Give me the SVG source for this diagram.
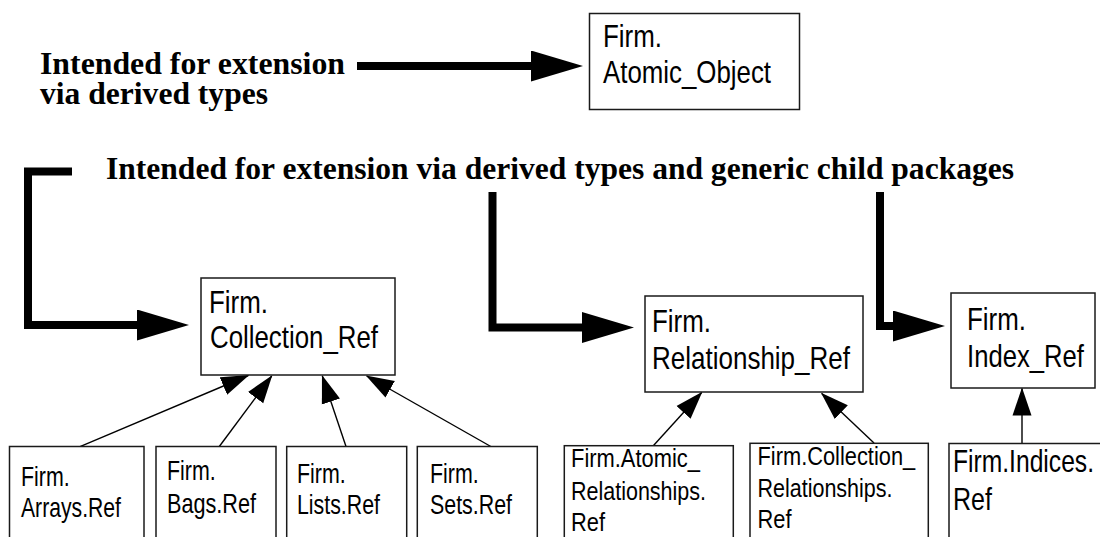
<svg xmlns="http://www.w3.org/2000/svg" width="1100" height="537" viewBox="0 0 1100 537">
  <style>
    .box { fill: #ffffff; stroke: #1a1a1a; stroke-width: 1.5; }
    .lbl { font-family: "Liberation Sans", Arial, Helvetica, sans-serif; fill: #000000; }
    .big { font-size: 32px; }
    .sm { font-size: 27.5px; }
    .xs { font-size: 26.5px; }
    .note { font-family: "Liberation Serif", "Times New Roman", serif; font-weight: bold; font-size: 31px; fill: #000000; }
    .thin { fill: none; stroke: #000000; stroke-width: 1.4; marker-end: url(#tri); }
    .heavy { fill: none; stroke: #000000; stroke-width: 8; stroke-linejoin: miter; marker-end: url(#bigtri); }
  </style>
  <defs>
    <marker id="tri" markerUnits="userSpaceOnUse" viewBox="0 0 28 20" markerWidth="28" markerHeight="20" refX="27" refY="10" orient="auto">
      <path d="M0,0.5 L28,10 L0,19.5 Z" fill="#000000"/>
    </marker>
    <marker id="bigtri" markerUnits="userSpaceOnUse" viewBox="0 0 52 31" markerWidth="52" markerHeight="31" refX="2" refY="15.5" orient="auto">
      <path d="M0,0 L52,15.5 L0,31 Z" fill="#000000"/>
    </marker>
  </defs>

  <rect width="1100" height="537" fill="#ffffff"/>

  <!-- annotations -->
  <g id="notes">
    <text class="note" x="40" y="73.5" textLength="305" lengthAdjust="spacingAndGlyphs">Intended for extension</text>
    <text class="note" x="40" y="103.5" textLength="228" lengthAdjust="spacingAndGlyphs">via derived types</text>
    <text class="note" x="106" y="178.5" textLength="908" lengthAdjust="spacingAndGlyphs">Intended for extension via derived types and generic child packages</text>
  </g>

  <!-- connectors -->
  <g id="connectors">
    <path class="heavy" d="M357,66 H533"/>
    <path class="heavy" d="M72,171.5 H28 V325 H139"/>
    <path class="heavy" d="M492.5,192 V327.5 H584"/>
    <path class="heavy" d="M880,192 V326 H895"/>

    <path class="thin" d="M80,446.7 L248.3,375.5"/>
    <path class="thin" d="M219.3,446.5 L271.7,376"/>
    <path class="thin" d="M346,446.5 L322.3,376"/>
    <path class="thin" d="M491.7,447 L366.7,376"/>
    <path class="thin" d="M653.3,445.7 L701.7,392.5"/>
    <path class="thin" d="M874,443 L821.7,393.5"/>
    <path class="thin" d="M1022,443.5 L1022,388.5"/>
  </g>

  <g id="atomic_object">
    <rect class="box" x="589.5" y="13.5" width="210" height="96"/>
    <text class="lbl big" x="603" y="47" textLength="59" lengthAdjust="spacingAndGlyphs">Firm.</text>
    <text class="lbl big" x="603" y="83" textLength="168" lengthAdjust="spacingAndGlyphs">Atomic_Object</text>
  </g>

  <g id="collection_ref">
    <rect class="box" x="201" y="278" width="194" height="97"/>
    <text class="lbl big" x="209" y="313" textLength="59" lengthAdjust="spacingAndGlyphs">Firm.</text>
    <text class="lbl big" x="210" y="348" textLength="168" lengthAdjust="spacingAndGlyphs">Collection_Ref</text>
  </g>

  <g id="relationship_ref">
    <rect class="box" x="645" y="296" width="218" height="96"/>
    <text class="lbl big" x="652" y="332" textLength="59" lengthAdjust="spacingAndGlyphs">Firm.</text>
    <text class="lbl big" x="652" y="369" textLength="198" lengthAdjust="spacingAndGlyphs">Relationship_Ref</text>
  </g>

  <g id="index_ref">
    <rect class="box" x="951" y="293" width="144" height="95"/>
    <text class="lbl big" x="967" y="330" textLength="59" lengthAdjust="spacingAndGlyphs">Firm.</text>
    <text class="lbl big" x="967" y="366.5" textLength="117" lengthAdjust="spacingAndGlyphs">Index_Ref</text>
  </g>

  <g id="arrays_ref">
    <rect class="box" x="9.5" y="446.5" width="134.5" height="100"/>
    <text class="lbl sm" x="21" y="485.5" textLength="48.7" lengthAdjust="spacingAndGlyphs">Firm.</text>
    <text class="lbl sm" x="21" y="516.5" textLength="100" lengthAdjust="spacingAndGlyphs">Arrays.Ref</text>
  </g>

  <g id="bags_ref">
    <rect class="box" x="156" y="446.5" width="120" height="100"/>
    <text class="lbl sm" x="167" y="480" textLength="48.7" lengthAdjust="spacingAndGlyphs">Firm.</text>
    <text class="lbl sm" x="167" y="512.5" textLength="89" lengthAdjust="spacingAndGlyphs">Bags.Ref</text>
  </g>

  <g id="lists_ref">
    <rect class="box" x="286.7" y="446.5" width="120" height="100"/>
    <text class="lbl sm" x="297" y="482.5" textLength="48.7" lengthAdjust="spacingAndGlyphs">Firm.</text>
    <text class="lbl sm" x="297" y="514" textLength="83" lengthAdjust="spacingAndGlyphs">Lists.Ref</text>
  </g>

  <g id="sets_ref">
    <rect class="box" x="417.3" y="446.5" width="120" height="100"/>
    <text class="lbl sm" x="430" y="482.5" textLength="48.7" lengthAdjust="spacingAndGlyphs">Firm.</text>
    <text class="lbl sm" x="430" y="513.5" textLength="82" lengthAdjust="spacingAndGlyphs">Sets.Ref</text>
  </g>

  <g id="atomic_relationships_ref">
    <rect class="box" x="564.3" y="445.7" width="169" height="100"/>
    <text class="lbl xs" x="571" y="466.5" textLength="129" lengthAdjust="spacingAndGlyphs">Firm.Atomic_</text>
    <text class="lbl xs" x="571" y="500" textLength="135" lengthAdjust="spacingAndGlyphs">Relationships.</text>
    <text class="lbl xs" x="571" y="531" textLength="34" lengthAdjust="spacingAndGlyphs">Ref</text>
  </g>

  <g id="collection_relationships_ref">
    <rect class="box" x="750" y="443.3" width="178.3" height="100"/>
    <text class="lbl xs" x="757.5" y="465" textLength="157.7" lengthAdjust="spacingAndGlyphs">Firm.Collection_</text>
    <text class="lbl xs" x="757.5" y="496.5" textLength="135" lengthAdjust="spacingAndGlyphs">Relationships.</text>
    <text class="lbl xs" x="757.5" y="527.5" textLength="34" lengthAdjust="spacingAndGlyphs">Ref</text>
  </g>

  <g id="indices_ref">
    <rect class="box" x="949" y="443.5" width="160" height="100"/>
    <text class="lbl big" x="953" y="471.5" textLength="141" lengthAdjust="spacingAndGlyphs">Firm.Indices.</text>
    <text class="lbl big" x="953" y="510" textLength="39" lengthAdjust="spacingAndGlyphs">Ref</text>
  </g>
</svg>
